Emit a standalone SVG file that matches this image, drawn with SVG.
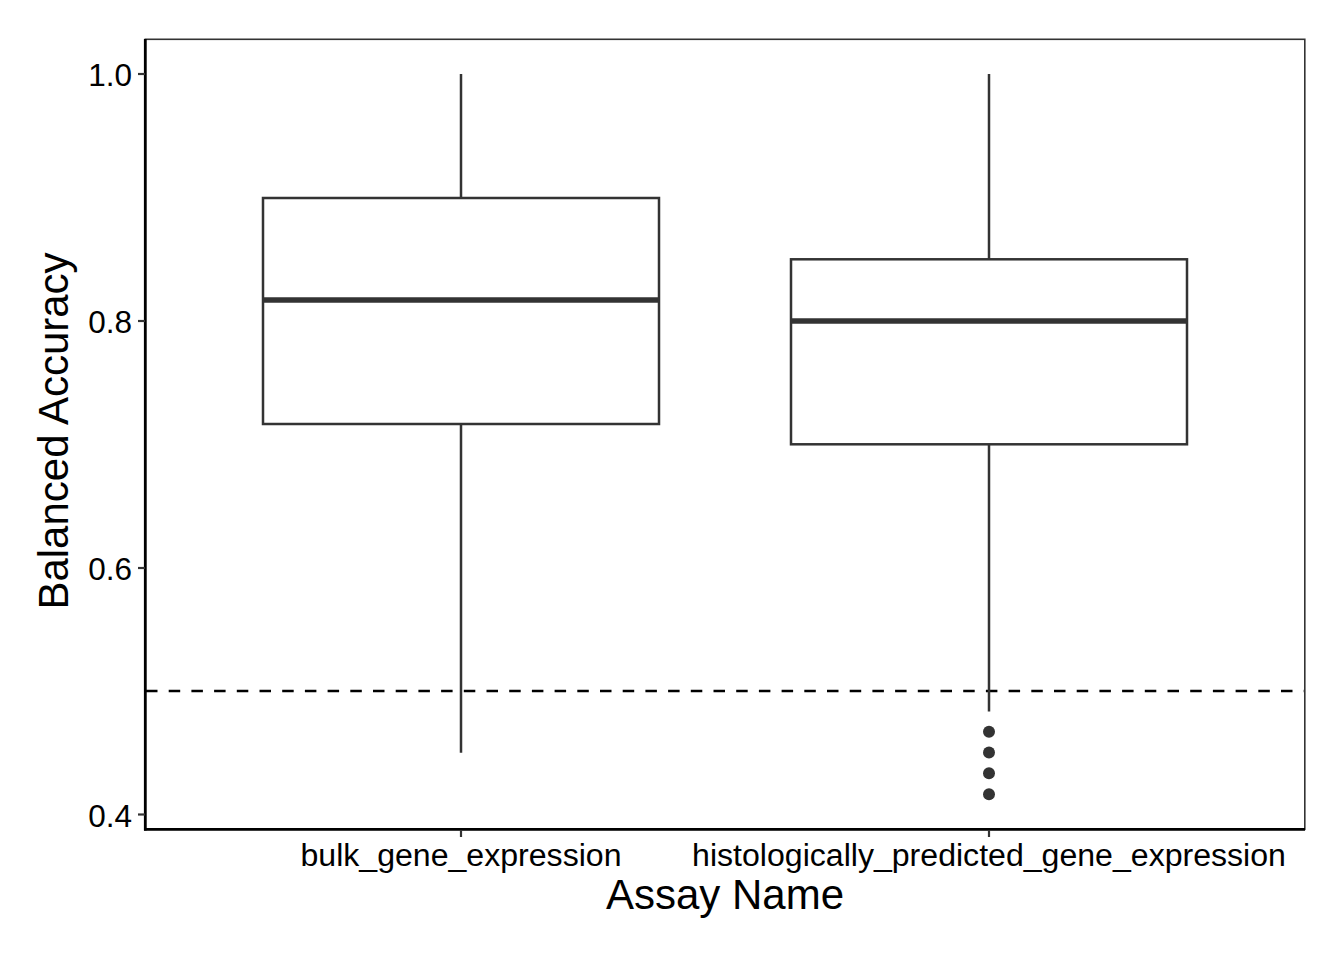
<svg xmlns="http://www.w3.org/2000/svg" width="1344" height="960" viewBox="0 0 1344 960">
<style>
.tick{stroke:#333333;stroke-width:2.2}
.ticklab{font-family:"Liberation Sans",Arial,sans-serif;font-size:31.5px;fill:#000000}
.xlab{font-family:"Liberation Sans",Arial,sans-serif;font-size:32.1px;fill:#000000}
.title{font-family:"Liberation Sans",Arial,sans-serif;font-size:42px;fill:#000000}
.box{fill:#ffffff;stroke:#333333;stroke-width:2.5}
.med{stroke:#333333;stroke-width:5.5}
.whisk{stroke:#333333;stroke-width:2.5}
.out{fill:#333333}
</style>
<rect x="0" y="0" width="1344" height="960" fill="#ffffff"/>
<g id="panel">
<rect x="145.3" y="39.3" width="1159.5" height="790" fill="#ffffff" stroke="#333333" stroke-width="1.6"/>
</g>
<g id="reference-line">
<line x1="146" y1="691" x2="1304" y2="691" stroke="#000000" stroke-width="2.6" stroke-dasharray="11.5 11.2"/>
</g>
<g id="box-bulk">
<line class="whisk" x1="461" y1="74" x2="461" y2="198"/>
<line class="whisk" x1="461" y1="424" x2="461" y2="752.7"/>
<rect class="box" x="263" y="198" width="396" height="226"/>
<line class="med" x1="263" y1="300" x2="659" y2="300"/>
</g>
<g id="box-histo">
<line class="whisk" x1="989" y1="74" x2="989" y2="259.3"/>
<line class="whisk" x1="989" y1="444.3" x2="989" y2="711.5"/>
<rect class="box" x="791" y="259.3" width="396" height="185"/>
<line class="med" x1="791" y1="321" x2="1187" y2="321"/>
<circle class="out" cx="989" cy="731.8" r="6"/>
<circle class="out" cx="989" cy="752.6" r="6"/>
<circle class="out" cx="989" cy="773.3" r="6"/>
<circle class="out" cx="989" cy="794.2" r="6"/>
</g>
<g id="axes">
<line x1="145.3" y1="39" x2="145.3" y2="830.5" stroke="#000000" stroke-width="2.8"/>
<line x1="144" y1="829.3" x2="1305" y2="829.3" stroke="#000000" stroke-width="2.8"/>
<line class="tick" x1="138" y1="74" x2="145" y2="74"/>
<line class="tick" x1="138" y1="321" x2="145" y2="321"/>
<line class="tick" x1="138" y1="568" x2="145" y2="568"/>
<line class="tick" x1="138" y1="814.5" x2="145" y2="814.5"/>
<line class="tick" x1="461" y1="830" x2="461" y2="837"/>
<line class="tick" x1="989" y1="830" x2="989" y2="837"/>
<text class="ticklab" x="132" y="86" text-anchor="end">1.0</text>
<text class="ticklab" x="132" y="333" text-anchor="end">0.8</text>
<text class="ticklab" x="132" y="580" text-anchor="end">0.6</text>
<text class="ticklab" x="132" y="826.5" text-anchor="end">0.4</text>
<text class="xlab" x="461" y="866" text-anchor="middle">bulk_gene_expression</text>
<text class="xlab" x="989" y="866" text-anchor="middle">histologically_predicted_gene_expression</text>
<text class="title" x="725" y="909" text-anchor="middle">Assay Name</text>
<text class="title" x="0" y="0" text-anchor="middle" transform="translate(68,431) rotate(-90)">Balanced Accuracy</text>
</g>
</svg>
